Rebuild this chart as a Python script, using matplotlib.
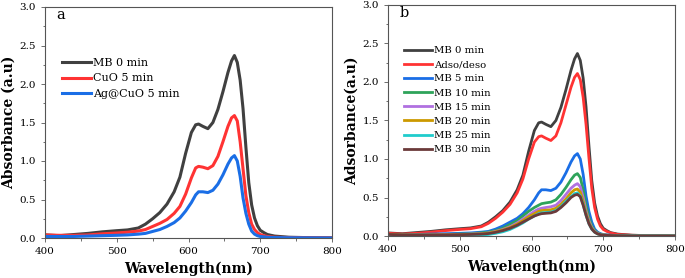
import matplotlib
matplotlib.use("Agg")
import matplotlib.pyplot as plt
from matplotlib.ticker import MultipleLocator, FormatStrFormatter

plt.rcParams['font.family'] = ['DejaVu Serif']

wl = [400, 420, 440, 460, 480, 500, 515, 530, 540, 550, 560, 570, 580, 588, 596, 604, 610, 614, 620,
      627, 634, 641, 648, 655, 660, 664, 668, 672, 676, 680, 684, 688, 692, 696, 700, 705, 710, 720,
      740, 760, 780, 800]

mb0 = [0.04, 0.03, 0.045, 0.06, 0.08, 0.095, 0.105, 0.13, 0.18, 0.25, 0.33, 0.44, 0.60, 0.79, 1.10,
       1.37, 1.47, 1.48, 1.45, 1.42, 1.50, 1.67, 1.90, 2.15, 2.30, 2.37, 2.28, 2.05, 1.68, 1.18, 0.72,
       0.43, 0.26, 0.16, 0.10, 0.07, 0.045, 0.025, 0.01, 0.006, 0.003, 0.002]
cuo5 = [0.04, 0.035, 0.035, 0.04, 0.055, 0.065, 0.075, 0.09, 0.11, 0.15, 0.19, 0.24, 0.32, 0.41, 0.57,
        0.78, 0.91, 0.93, 0.92, 0.90, 0.94, 1.06, 1.25, 1.45, 1.56, 1.59, 1.52, 1.25, 0.90, 0.55, 0.33,
        0.18, 0.11, 0.07, 0.045, 0.03, 0.02, 0.01, 0.005, 0.003, 0.002, 0.001]
agcuo5 = [0.02, 0.02, 0.02, 0.025, 0.03, 0.035, 0.04, 0.05, 0.06, 0.085, 0.11, 0.15, 0.20, 0.26, 0.35,
          0.46, 0.56, 0.60, 0.60, 0.59, 0.62, 0.70, 0.82, 0.96, 1.04, 1.07, 1.00, 0.80, 0.52, 0.32, 0.18,
          0.09, 0.05, 0.03, 0.02, 0.015, 0.01, 0.006, 0.003, 0.002, 0.001, 0.0]

adso = [0.035, 0.025, 0.035, 0.05, 0.07, 0.085, 0.095, 0.12, 0.165, 0.23, 0.31, 0.41, 0.56, 0.74, 1.00,
        1.22, 1.29, 1.30, 1.27, 1.24, 1.30, 1.47, 1.70, 1.93, 2.06, 2.11, 2.03, 1.80, 1.45, 1.02, 0.62,
        0.37, 0.22, 0.13, 0.085, 0.06, 0.04, 0.02, 0.01, 0.005, 0.003, 0.002]
mb5 = [0.02, 0.02, 0.02, 0.025, 0.03, 0.035, 0.04, 0.05, 0.06, 0.09, 0.13, 0.18, 0.23, 0.29, 0.37,
       0.47, 0.56, 0.60, 0.60, 0.59, 0.62, 0.70, 0.82, 0.96, 1.04, 1.07, 1.00, 0.80, 0.52, 0.32, 0.18,
       0.09, 0.05, 0.03, 0.02, 0.015, 0.01, 0.006, 0.003, 0.002, 0.001, 0.0]
mb10 = [0.02, 0.015, 0.015, 0.015, 0.02, 0.025, 0.03, 0.04, 0.05, 0.07, 0.10, 0.15, 0.20, 0.26, 0.32,
        0.37, 0.40, 0.42, 0.43, 0.44, 0.47, 0.54, 0.63, 0.73, 0.79, 0.81, 0.76, 0.60, 0.40, 0.24, 0.13,
        0.07, 0.04, 0.025, 0.015, 0.011, 0.008, 0.005, 0.003, 0.002, 0.001, 0.0]
mb15 = [0.02, 0.015, 0.012, 0.012, 0.015, 0.02, 0.025, 0.03, 0.04, 0.06, 0.085, 0.12, 0.17, 0.22, 0.27,
        0.32, 0.35, 0.36, 0.37, 0.38, 0.40, 0.46, 0.54, 0.62, 0.66, 0.68, 0.64, 0.50, 0.33, 0.20, 0.11,
        0.06, 0.035, 0.02, 0.013, 0.01, 0.008, 0.005, 0.003, 0.002, 0.001, 0.0]
mb20 = [0.02, 0.015, 0.012, 0.012, 0.014, 0.018, 0.022, 0.028, 0.036, 0.055, 0.078, 0.11, 0.155, 0.20,
        0.25, 0.29, 0.32, 0.33, 0.335, 0.34, 0.36, 0.41, 0.48, 0.56, 0.60, 0.61, 0.57, 0.45, 0.30, 0.18,
        0.10, 0.055, 0.03, 0.018, 0.012, 0.009, 0.007, 0.004, 0.002, 0.001, 0.001, 0.0]
mb25 = [0.01, 0.005, 0.003, 0.002, 0.003, 0.005, 0.008, 0.013, 0.02, 0.035, 0.055, 0.085, 0.13, 0.17,
        0.22, 0.26, 0.29, 0.30, 0.305, 0.31, 0.33, 0.38, 0.45, 0.51, 0.55, 0.56, 0.52, 0.41, 0.27, 0.16,
        0.09, 0.05, 0.028, 0.016, 0.01, 0.007, 0.005, 0.003, 0.002, 0.001, 0.001, 0.0]
mb30 = [0.02, 0.015, 0.012, 0.012, 0.014, 0.017, 0.02, 0.025, 0.032, 0.048, 0.07, 0.10, 0.14, 0.18,
        0.22, 0.26, 0.28, 0.29, 0.295, 0.30, 0.32, 0.37, 0.43, 0.50, 0.53, 0.54, 0.51, 0.40, 0.27, 0.16,
        0.09, 0.05, 0.028, 0.017, 0.011, 0.008, 0.006, 0.004, 0.002, 0.001, 0.001, 0.0]

labels_a = ["MB 0 min", "CuO 5 min", "Ag@CuO 5 min"]
series_a = [mb0, cuo5, agcuo5]
colors_a = ["#404040", "#ff3333", "#1a6ee6"]

labels_b = ["MB 0 min", "Adso/deso", "MB 5 min", "MB 10 min", "MB 15 min", "MB 20 min",
            "MB 25 min", "MB 30 min"]
series_b = [mb0, adso, mb5, mb10, mb15, mb20, mb25, mb30]
colors_b = ["#404040", "#ff3333", "#1a6ee6", "#2ea35a", "#b070e0", "#cc9900", "#20cccc", "#6b3a3a"]

fig = plt.figure(figsize=(6.85, 2.78), dpi=100)
ax1 = fig.add_axes([45/685, 40/278, 287/685, 231/278])
ax2 = fig.add_axes([388/685, 42/278, 287/685, 231/278])


def style(ax, ylabel, letter):
    ax.set_xlim(400, 800)
    ax.set_ylim(0, 3.0)
    ax.xaxis.set_major_locator(MultipleLocator(100))
    ax.xaxis.set_minor_locator(MultipleLocator(50))
    ax.yaxis.set_major_locator(MultipleLocator(0.5))
    ax.yaxis.set_minor_locator(MultipleLocator(0.25))
    ax.yaxis.set_major_formatter(FormatStrFormatter('%.1f'))
    ax.tick_params(which='both', direction='out', labelsize=7.5, color='#555555', width=0.6)
    ax.tick_params(which='major', length=3)
    ax.tick_params(which='minor', length=1.8)
    for s in ax.spines.values():
        s.set_color('#555555')
        s.set_linewidth(0.8)
    ax.set_xlabel("Wavelength(nm)", fontsize=10, fontweight='bold', labelpad=4)
    ax.set_ylabel(ylabel, fontsize=10, fontweight='bold', labelpad=3)
    ax.text(0.04, 0.995, letter, transform=ax.transAxes, fontsize=10.5, va='top', ha='left')


for y, c, l in zip(series_a, colors_a, labels_a):
    ax1.plot(wl, y, color=c, lw=2.2, label=l)
style(ax1, "Absorbance (a.u)", "a")
ax1.legend(loc='upper left', bbox_to_anchor=(0.045, 0.80), frameon=False, fontsize=8,
           handlelength=2.6, handletextpad=0.2, labelspacing=0.52, borderaxespad=0)

for y, c, l in zip(series_b, colors_b, labels_b):
    ax2.plot(wl, y, color=c, lw=2.0, label=l)
style(ax2, "Adsorbance(a.u)", "b")
ax2.legend(loc='upper left', bbox_to_anchor=(0.04, 0.84), frameon=False, fontsize=7.3,
           handlelength=2.8, handletextpad=0.2, labelspacing=0.5, borderaxespad=0)

fig.savefig("out.png", dpi=100)
